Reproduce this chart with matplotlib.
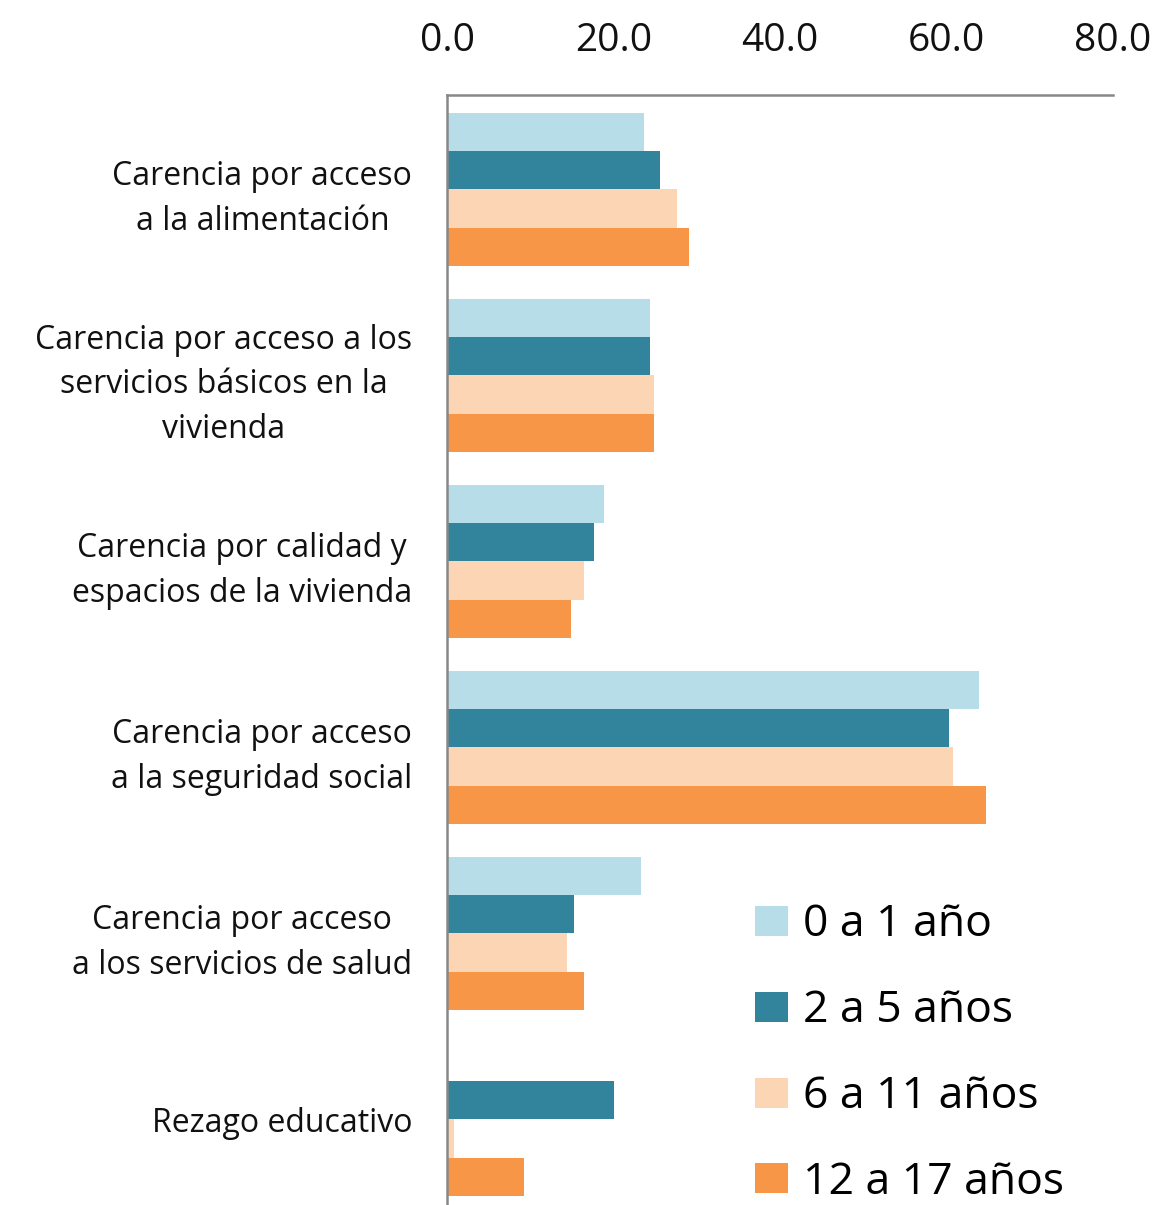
import numpy as np
import matplotlib.pyplot as plt
from matplotlib.patches import Patch

categories = [
    "Carencia por acceso\na la alimentación",
    "Carencia por acceso a los\nservicios básicos en la\nvivienda",
    "Carencia por calidad y\nespacios de la vivienda",
    "Carencia por acceso\na la seguridad social",
    "Carencia por acceso\na los servicios de salud",
    "Rezago educativo",
]
series_names = ["0 a 1 año", "2 a 5 años", "6 a 11 años", "12 a 17 años"]
v_0_1 = [23.7, 24.4, 18.8, 63.9, 23.3, 0.0]
v_2_5 = [25.6, 24.4, 17.6, 60.3, 15.3, 20.1]
v_6_11 = [27.6, 24.9, 16.5, 60.8, 14.4, 0.8]
v_12_17 = [29.1, 24.9, 14.9, 64.8, 16.5, 9.2]
colors = ["#B7DDE8", "#31849B", "#FCD5B5", "#F79646"]

plt.rcParams["font.family"] = ["Open Sans", "DejaVu Sans"]

fig = plt.figure(figsize=(11.62, 12.05), dpi=100)
ax = fig.add_axes([447 / 1162, 0, 666 / 1162, 1110 / 1205])

pos = np.arange(len(categories))
h = 0.2056
for i, vals in enumerate([v_0_1, v_2_5, v_6_11, v_12_17]):
    ax.barh(pos - 2 * h + (i + 0.5) * h, vals, height=h, color=colors[i],
            edgecolor="none")

ax.set_xlim(0, 80)
ax.set_ylim(-0.507 + 1110 / 186, -0.507)
ax.xaxis.tick_top()
ax.set_xticks([0, 20, 40, 60, 80], [f"{v:.1f}" for v in [0, 20, 40, 60, 80]])
ax.tick_params(axis="x", length=0, pad=25, labelsize=28, labelcolor="#111111")
ax.set_yticks(pos, categories)
ax.tick_params(axis="y", length=0, pad=25, labelsize=23, labelcolor="#111111")
for lbl in ax.get_yticklabels():
    lbl.set_multialignment("center")
    lbl.set_linespacing(1.45)

for s in ["right", "bottom"]:
    ax.spines[s].set_visible(False)
for s in ["left", "top"]:
    ax.spines[s].set_color("#888888")
    ax.spines[s].set_linewidth(1.8)

handles = [Patch(facecolor=c, edgecolor="none") for c in colors]
fig.legend(handles, series_names, loc="upper left",
           bbox_to_anchor=(755 / 1162, 1 - 903 / 1205), frameon=False,
           fontsize=32, handlelength=0.75, handleheight=0.66,
           handletextpad=0.32, labelspacing=0.93, borderpad=0,
           borderaxespad=0)

fig.savefig("out.png", dpi=100)
